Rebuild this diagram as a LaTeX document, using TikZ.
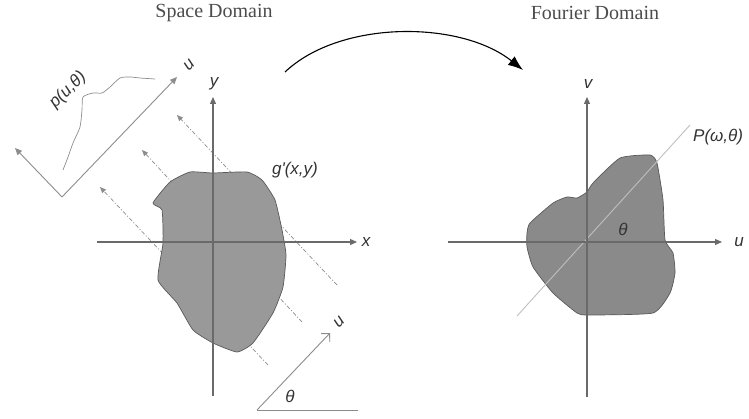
\documentclass[tikz,border=0pt]{standalone}
\usepackage{fontspec}
\setmainfont{Liberation Serif}
\newfontfamily\lblfont{Liberation Sans}
\usetikzlibrary{arrows.meta}

\definecolor{axisgray}{HTML}{6A6A6A}
\definecolor{raygray}{HTML}{8C8C8C}
\definecolor{blobgray}{HTML}{999999}
\definecolor{blobgrayb}{HTML}{8A8A8A}

\begin{document}
\begin{tikzpicture}[x=1pt,y=-1pt,
    axis/.style={draw=axisgray,line width=1.2pt,-{Triangle[length=7pt,width=6pt]}},
    ray/.style={draw=raygray,line width=0.7pt,dash pattern=on 4pt off 2pt on 1pt off 2pt,-{Triangle[length=6pt,width=5pt]}},
    thin/.style={draw=raygray,line width=0.9pt},
    lbl/.style={font=\lblfont\itshape\fontsize{17}{17}\selectfont,text=black!80,inner sep=1pt},
    title/.style={font=\fontsize{20}{20}\selectfont,text=black!70},
    blob/.style={draw=black!65,line width=0.7pt}]
    \useasboundingbox (0,0) rectangle (749,419);

    \node[title] (sd) at (214,13) {Space Domain};
    \node[title] (fd) at (595,13) {Fourier Domain};

    % space domain
    \coordinate (o1) at (213,242);
    \coordinate (xl) at (97,242);   \coordinate (xr) at (357,242);
    \coordinate (yb) at (213,396);  \coordinate (yt) at (213,97);

    \foreach \a/\b/\c/\d [count=\i] in {337/285/177/115, 302/322/142/150, 268/365/100/187}
        \draw[ray] (\a,\b) coordinate (rs\i) -- (\c,\d) coordinate (re\i);

    \draw[blob,fill=blobgray]
        plot[smooth cycle,tension=0.3]
        coordinates {(153,203) (170,182) (190,172) (213,173) (247,172) (262,180) (275,200) (282,230) (286,255) (283,287) (273,313) (253,343) (237,352) (213,343) (193,330) (177,303) (158,280) (163,243) (162,210)};

    \draw[axis] (xl) -- (xr);
    \draw[axis] (yb) -- (yt);
    \node[lbl] (xlab) at (366,242) {x};
    \node[lbl] (ylab) at (214,84) {y};
    \node[lbl] (glab) at (295,170) {g'(x,y)};

    % projection
    \coordinate (pc) at (62,197);
    \coordinate (pu) at (177,77);
    \coordinate (pl) at (15,148);
    \draw[thin,-{Triangle[length=7pt,width=6pt]}] (pc) -- (pu);
    \draw[thin,-{Triangle[length=7pt,width=6pt]}] (pc) -- (pl);
    \draw[thin,line width=0.7pt]
        plot[smooth,tension=0.4]
        coordinates {(63,170) (68,157) (73,143) (80,127) (82,110) (83,97) (93,93) (102,93) (110,87) (120,78) (130,77) (140,78) (155,79)};
    \node[lbl,rotate=45] (plab) at (68,90) {p(u,θ)};
    \node[lbl,rotate=45] (ulab) at (189,65) {u};

    % angle
    \coordinate (ac) at (257,410);
    \coordinate (ah) at (358,410);
    \coordinate (au) at (330,333);
    \draw[thin] (ac) -- (ah);
    \draw[thin,-{Straight Barb[length=6pt]}] (ac) -- (au);
    \node[lbl,rotate=45] (ulab2) at (339,322) {u};
    \node[lbl] (tlab) at (290,396) {θ};

    % transform arrow
    \coordinate (arrS) at (285,72);
    \coordinate (arrE) at (523,70);
    \draw[line width=1.1pt,-{Latex[length=15pt,width=11pt]}] (arrS) .. controls (340,20) and (460,20) .. (arrE);

    % fourier domain
    \coordinate (o2) at (587,242);
    \coordinate (ul) at (448,242);  \coordinate (ur) at (722,242);
    \coordinate (vb) at (587,397);  \coordinate (vt) at (587,97);
    \coordinate (ps) at (517,316);  \coordinate (pe) at (690,125);

    \draw[blob,fill=blobgrayb]
        plot[smooth cycle,tension=0.3]
        coordinates {(527,233) (530,223) (553,203) (567,197) (577,198) (587,192) (593,183) (620,158) (650,155) (657,163) (663,200) (665,240) (673,253) (675,273) (670,293) (653,313) (588,315) (577,313) (553,293) (533,267) (527,247)};

    \draw[draw=black!25,line width=0.9pt] (ps) -- (pe);
    \draw[axis] (ul) -- (ur);
    \draw[axis] (vb) -- (vt);
    \node[lbl] (ulab3) at (739,242) {u};
    \node[lbl] (vlab) at (588,84) {v};
    \node[lbl] (thlab) at (623,229) {θ};
    \node[lbl,anchor=west] (Plab) at (692,137) {P(ω,θ)};
\end{tikzpicture}
\end{document}
